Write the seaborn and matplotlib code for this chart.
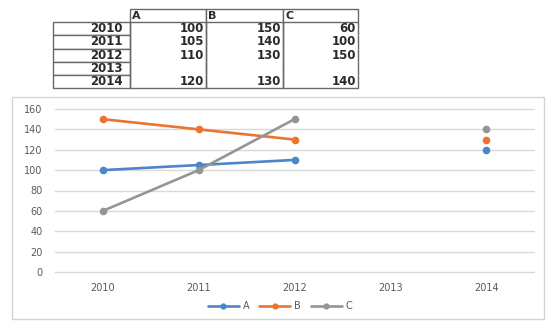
import numpy as np
import pandas as pd
import matplotlib
matplotlib.use("Agg")
import matplotlib.pyplot as plt
import seaborn as sns
from matplotlib.patches import Rectangle
from matplotlib.lines import Line2D

# ---- data ----
years = [2010, 2011, 2012, 2013, 2014]
series_names = ["A", "B", "C"]
a_values = [100, 105, 110, np.nan, 120]
b_values = [150, 140, 130, np.nan, 130]
c_values = [60, 100, 150, np.nan, 140]
y_ticks = [0, 20, 40, 60, 80, 100, 120, 140, 160]

colors = {"A": "#4A86C8", "B": "#EC7430", "C": "#959595"}

sns.set_theme(style="white")
plt.rcParams['font.family'] = ['DejaVu Sans']

fig = plt.figure(figsize=(5.49, 3.23), dpi=100)
W, H = 549, 323

def fx(px):
    return px / W

def fy(py):
    return 1 - py / H

# chart border
fig.patches.append(Rectangle((fx(12), fy(319)), fx(544) - fx(12), fy(97) - fy(319),
                             transform=fig.transFigure, fill=False,
                             edgecolor="#D4D4D4", linewidth=1.0))

# ---- long-form frame with gap segments ----
rows = []
for name, vals in zip(series_names, [a_values, b_values, c_values]):
    seg = 0
    prev_nan = False
    for yr, v in zip(years, vals):
        if np.isnan(v):
            prev_nan = True
            continue
        if prev_nan:
            seg += 1
            prev_nan = False
        rows.append({"year": yr, "value": v, "series": name, "seg": f"{name}{seg}"})
df = pd.DataFrame(rows)

ax = fig.add_axes([fx(55), fy(272), fx(534) - fx(55), fy(109) - fy(272)])
sns.lineplot(data=df, x="year", y="value", hue="series", units="seg",
             estimator=None, palette=colors, marker="o", markersize=5.5,
             markeredgewidth=0, linewidth=1.9, ax=ax, legend=False)

ax.set_xlim(years[0] - 0.5, years[-1] + 0.5)
ax.set_ylim(0, 160)
ax.set_xticks(years)
ax.set_xticklabels([str(y) for y in years])
ax.set_yticks(y_ticks)
ax.set_yticklabels([str(t) for t in y_ticks])
ax.yaxis.grid(True, color="#D9D9D9", linewidth=1.0)
for gl in ax.get_ygridlines():
    gl.set_clip_on(False)
ax.xaxis.grid(False)
ax.set_axisbelow(True)
for s in ax.spines.values():
    s.set_visible(False)
ax.tick_params(axis="both", length=0, labelsize=7, labelcolor="#595959")
ax.tick_params(axis="y", pad=9)
ax.tick_params(axis="x", pad=8)
ax.set_xlabel("")
ax.set_ylabel("")
ax.set_facecolor("none")

# legend
handles = [Line2D([0], [0], color=colors[n], lw=1.9, marker="o", markersize=4.5,
                  markeredgewidth=0) for n in series_names]
fig.legend(handles, series_names, loc="center", bbox_to_anchor=(fx(280), fy(306)),
           bbox_transform=fig.transFigure, ncol=3, frameon=False, fontsize=7,
           handlelength=3.2, handletextpad=0.4, columnspacing=1.0,
           labelcolor="#595959")

# ---- table ----
tax = fig.add_axes([fx(53), fy(88), fx(358) - fx(53), fy(9) - fy(88)])
tax.axis("off")

def fmt(v):
    return "" if np.isnan(v) else str(int(v))

cell_text = [[""] + series_names]
for i, yr in enumerate(years):
    cell_text.append([str(yr), fmt(a_values[i]), fmt(b_values[i]), fmt(c_values[i])])

col_w = [77, 76, 77, 75]
tot = sum(col_w)
tbl = tax.table(cellText=cell_text, colWidths=[w / tot for w in col_w],
                bbox=[0, 0, 1, 1])
tbl.auto_set_font_size(False)
nrows = len(cell_text)
for (r, c), cell in tbl.get_celld().items():
    cell.set_edgecolor("#6E6662")
    cell.set_linewidth(1.0)
    cell.set_facecolor("white")
    txt = cell.get_text()
    txt.set_fontsize(8.5)
    txt.set_fontweight("bold")
    txt.set_color("#2a2a2a")
    if r == 0:
        if c == 0:
            cell.visible_edges = ""
        else:
            cell.visible_edges = "closed"
            cell._loc = "left"
            cell.PAD = 0.03
            txt.set_fontsize(8)
    else:
        if c == 0:
            cell.visible_edges = "closed"
            cell._loc = "right"
            cell.PAD = 0.09
        else:
            cell.visible_edges = "BLR" if r == nrows - 1 else "LR"
            cell._loc = "right"
            cell.PAD = 0.03
    txt.set_horizontalalignment(cell._loc)

fig.savefig("out.png", dpi=100)
